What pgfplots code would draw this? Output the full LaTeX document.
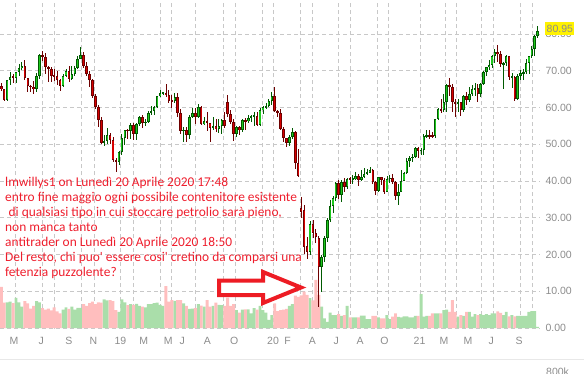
\documentclass[border=0pt]{standalone}
\usepackage{pgfplots}
\pgfplotsset{compat=1.18}
\usepackage{pgfplotstable}
\usepackage{fontspec}
\setmainfont{Liberation Sans}
\newfontfamily\carlito{Carlito}
\definecolor{upfill}{RGB}{30,200,30}
\definecolor{updark}{RGB}{0,90,0}
\definecolor{dnfill}{RGB}{215,0,0}
\definecolor{dndark}{RGB}{110,0,0}
\definecolor{volup}{RGB}{170,222,170}
\definecolor{voldn}{RGB}{255,190,190}
\definecolor{gridgray}{RGB}{200,200,200}
\definecolor{tickgray}{RGB}{140,140,140}
\definecolor{annot}{RGB}{238,30,45}
\definecolor{arrowred}{RGB}{237,28,36}
\definecolor{sepgray}{RGB}{232,232,232}

\pgfplotstableread{
i o h l c v
0 65.9 66.6 64.6 64.9 11.2
1 64.9 65.0 61.8 62.1 6.9
2 62.1 67.5 61.9 67.4 7.0
3 67.4 69.6 66.2 68.4 7.2
4 68.4 69.0 66.6 68.1 6.8
5 68.1 69.6 66.8 69.7 8.2
6 69.7 71.9 68.6 70.7 7.0
7 70.7 72.3 70.2 71.3 5.8
8 71.3 72.9 67.4 67.9 7.3
9 67.9 68.1 64.2 65.8 6.7
10 65.8 66.2 64.2 65.7 5.3
11 65.7 67.1 63.6 65.1 6.0
12 65.1 69.3 64.2 68.6 7.3
13 68.6 74.5 67.8 74.2 7.0
14 74.2 75.3 72.6 73.8 5.4
15 73.8 74.8 69.0 71.0 5.0
16 71.0 71.4 67.0 70.5 5.3
17 70.5 71.0 67.0 68.7 4.8
18 68.7 70.4 67.3 68.5 5.6
19 68.5 69.9 66.0 67.6 4.5
20 67.6 67.8 64.4 65.9 4.0
21 65.9 69.0 65.7 68.7 5.0
22 68.7 70.4 68.3 69.8 5.6
23 69.8 71.4 66.9 67.8 5.2
24 67.8 71.4 67.5 69.0 5.8
25 69.0 71.4 68.6 70.8 5.0
26 70.8 73.9 70.5 73.3 5.5
27 73.3 76.5 73.1 74.3 5.5
28 74.3 75.1 70.8 71.3 6.5
29 71.3 72.4 68.5 69.1 6.0
30 69.1 70.0 65.7 67.6 6.8
31 67.6 67.8 62.5 63.1 7.2
32 63.1 63.6 59.6 60.2 6.5
33 60.2 60.7 54.8 56.5 7.0
34 56.5 57.4 50.2 50.4 6.9
35 50.4 52.4 49.4 50.9 7.8
36 50.9 54.3 50.1 52.6 7.5
37 52.6 53.0 50.2 51.2 7.6
38 51.2 51.9 45.3 45.6 7.3
39 45.6 46.2 42.4 45.3 4.9
40 45.3 48.2 44.4 48.0 4.4
41 48.0 52.7 47.1 51.6 7.8
42 51.6 54.0 49.8 53.8 7.0
43 53.8 54.2 51.3 53.7 6.2
44 53.7 55.8 51.3 55.3 6.5
45 55.3 55.8 51.2 52.7 6.3
46 52.7 55.7 51.2 55.6 6.6
47 55.6 57.8 55.1 57.3 6.0
48 57.3 57.9 54.5 55.8 5.8
49 55.8 57.0 55.1 56.1 5.6
50 56.1 59.0 55.7 58.5 6.5
51 58.5 60.4 58.0 59.0 6.5
52 59.0 60.5 58.0 60.1 6.8
53 60.1 63.2 60.0 63.1 6.9
54 63.1 64.8 62.9 63.9 6.3
55 63.9 64.3 63.3 64.0 6.0
56 64.0 66.4 62.8 63.3 11.4
57 63.3 64.8 61.1 61.9 7.2
58 61.9 63.3 60.0 61.7 7.6
59 61.7 63.9 61.2 62.8 7.4
60 62.8 63.9 57.3 58.6 7.6
61 58.6 59.6 52.9 53.5 7.6
62 53.5 54.8 50.6 54.0 6.7
63 54.0 54.8 50.6 52.5 6.0
64 52.5 58.0 51.3 57.4 5.2
65 57.4 59.9 57.2 58.5 5.3
66 58.5 60.0 55.6 57.5 5.4
67 57.5 61.0 57.1 60.2 6.5
68 60.2 60.5 55.3 55.6 6.1
69 55.6 57.4 55.3 56.2 5.8
70 56.2 58.8 53.6 55.7 7.6
71 55.7 55.7 50.5 54.5 5.8
72 54.5 57.5 53.9 54.9 6.0
73 54.9 56.9 53.3 54.2 6.9
74 54.2 56.9 53.0 55.1 6.3
75 55.1 57.0 52.8 56.5 6.2
76 56.5 58.8 54.5 54.9 6.0
77 61.6 63.4 57.5 58.1 8.3
78 58.1 59.3 55.6 56.0 6.0
79 56.0 56.8 51.0 52.8 6.5
80 52.8 54.9 51.9 54.7 4.9
81 54.7 54.9 52.4 53.8 4.2
82 53.8 56.9 53.3 56.7 5.0
83 56.7 57.2 53.8 56.2 5.1
84 56.2 57.9 55.9 57.2 5.1
85 57.2 57.9 56.0 57.7 4.0
86 57.7 58.7 55.1 57.8 5.4
87 57.8 58.7 55.0 55.2 5.0
88 55.2 59.9 55.0 59.2 6.0
89 59.2 60.3 58.1 60.1 4.9
90 60.1 61.2 59.7 60.4 4.2
91 60.4 62.3 60.1 61.7 2.2
92 61.7 64.1 60.6 63.05 3.5
93 63.05 65.65 58.8 59.0 6.7
94 59.0 59.2 57.4 58.5 4.6
95 58.5 59.7 53.9 54.2 4.9
96 54.2 54.6 50.6 51.6 5.0
97 51.6 51.8 49.3 50.3 5.2
98 50.3 52.5 49.5 52.1 6.0
99 52.1 54.5 51.4 53.4 6.5
100 53.4 53.5 43.3 44.8 8.8
101 44.8 48.7 41.0 41.3 8.5
102 32.6 35.7 30.0 31.7 8.9
103 32.0 33.5 20.1 22.1 9.9
104 22.3 24.9 18.9 20.8 9.0
105 20.8 29.0 19.9 28.3 8.1
106 28.3 29.5 24.5 25.8 7.5
107 25.8 27.0 23.0 24.7 13.1
108 24.4 25.0 5.8 16.7 9.0
109 16.5 19.9 9.9 19.4 5.8
110 19.4 25.0 18.0 24.5 2.6
111 24.5 29.8 23.5 29.4 1.7
112 29.4 34.7 28.8 33.2 4.2
113 33.2 35.8 31.3 35.4 3.5
114 35.4 39.7 34.6 39.4 3.5
115 39.4 40.4 35.2 36.2 3.8
116 36.2 40.4 34.4 39.7 3.3
117 39.7 40.8 37.1 38.5 3.5
118 38.5 40.9 37.9 40.6 6.0
119 40.6 41.1 39.3 40.5 2.9
120 40.5 41.5 39.2 40.6 2.9
121 40.6 42.5 40.2 41.3 2.9
122 41.3 42.0 38.7 40.3 2.9
123 40.3 42.9 39.9 41.2 3.4
124 41.2 43.5 40.7 42.0 3.4
125 42.0 43.4 41.5 42.3 2.4
126 42.3 43.8 42.1 43.0 2.4
127 43.0 43.4 39.2 39.8 3.3
128 39.8 40.0 36.1 37.3 3.3
129 37.3 41.2 36.9 41.1 2.9
130 41.1 41.2 39.0 40.3 2.6
131 40.3 40.9 36.6 37.05 2.6
132 37.05 41.4 37.0 40.6 3.5
133 40.6 41.5 39.4 40.9 2.4
134 40.9 41.8 39.2 39.85 3.1
135 39.85 40.0 34.9 35.8 4.0
136 35.8 39.1 33.6 37.1 3.0
137 37.1 43.1 37.0 40.1 2.9
138 40.1 42.4 39.9 42.2 3.2
139 42.2 46.3 41.9 45.5 3.2
140 45.5 46.7 43.9 46.3 2.9
141 46.3 47.3 45.2 46.6 2.9
142 46.6 49.3 46.2 49.1 3.3
143 49.1 49.3 46.2 48.2 3.3
144 48.2 48.9 47.2 48.5 9.25
145 48.5 52.8 47.2 52.2 3.1
146 52.2 53.9 51.8 52.4 3.3
147 52.4 53.9 51.4 52.3 3.3
148 52.3 53.2 51.6 52.2 4.0
149 52.2 57.0 51.7 56.85 4.0
150 56.85 60.0 56.6 59.5 4.0
151 59.5 62.3 58.6 59.2 4.0
152 59.2 63.8 58.9 61.5 4.9
153 61.5 66.4 58.9 66.1 5.0
154 66.1 67.98 63.1 65.6 4.4
155 65.6 66.4 58.9 61.4 7.6
156 61.4 62.3 57.3 61.0 4.4
157 61.0 62.3 58.9 61.45 3.1
158 61.45 61.5 57.6 59.3 3.5
159 59.3 63.5 58.9 63.1 3.3
160 63.1 64.1 60.6 62.1 4.4
161 62.1 65.5 61.5 63.6 4.4
162 63.6 66.0 63.1 64.9 3.1
163 64.9 66.7 63.2 65.4 3.8
164 65.4 66.5 61.6 63.6 3.5
165 63.6 66.6 62.9 66.3 3.8
166 66.3 69.8 66.1 69.6 3.5
167 69.6 71.0 68.5 70.9 3.8
168 70.9 72.9 70.3 71.6 3.5
169 71.6 74.2 70.8 74.05 4.0
170 74.05 76.0 72.0 75.2 4.0
171 75.2 77.0 72.3 74.6 4.5
172 74.6 75.5 71.0 71.8 4.1
173 71.8 72.4 65.0 72.1 3.5
174 72.1 74.3 71.2 73.95 4.4
175 73.95 74.1 67.6 68.3 3.2
176 68.3 69.3 65.2 68.4 3.5
177 68.4 68.5 61.7 62.3 3.2
178 62.3 69.0 62.0 68.7 3.3
179 68.7 70.1 67.6 69.3 3.3
180 69.3 70.4 67.4 69.7 3.3
181 69.7 73.1 69.1 72.0 3.3
182 72.0 74.1 69.2 74.0 4.4
183 74.0 76.7 73.6 75.9 4.6
184 75.9 79.8 74.0 79.35 4.6
185 79.35 82.3 79.0 80.95 0.3
}\candles

\newcommand\xpos{((\thisrow{i}<=108) ? (1.3+2.94*\thisrow{i}) : (318.8+2.84*(\thisrow{i}-108)))}
\newcommand\tickfont{\fontsize{10.5}{12}\selectfont}

\begin{document}
\begin{tikzpicture}
\path[use as bounding box] (0,0) rectangle (584pt,373pt);
\draw[sepgray, line width=0.8pt] (0pt,14pt) -- (584pt,14pt);
\begin{axis}[
  at={(0pt,44pt)}, anchor=south west,
  scale only axis, width=540pt, height=329pt,
  xmin=0, xmax=540, ymin=-0.27, ymax=89.25,
  axis line style={draw=none},
  major tick length=0pt,
  ytick={0,10,...,80},
  yticklabel pos=right,
  yticklabel style={font=\tickfont, text=tickgray, anchor=west, xshift=2pt},
  /pgf/number format/.cd, fixed, fixed zerofill, precision=2, assume math mode=true,
  /pgfplots/.cd,
  xtick={14,41.3,68.8,93.3,120.5,143.8,168.3,182.2,207.3,234.3,273,287.5,312.3,336.2,360,384.5,419.5,444,468,491.3,519},
  xticklabels={M,J,S,N,19,M,M,J,A,O,20,F,A,J,A,O,21,M,M,J,S},
  xticklabel style={font=\tickfont, text=tickgray, anchor=center, yshift=-11.7pt},
  ymajorgrids=true,
  major grid style={gridgray, line width=0.8pt, dash pattern=on 4pt off 3pt},
  extra x ticks={15,42.7,54.3,81.7,94,120.7,133.3,160,171.7,195,223,235,262,273,300,312,338,350,377,388,420.7,445,456.7,481,493.3,520,532.7},
  extra x tick labels={},
  extra x tick style={grid=major},
]
% volume
\addplot[ybar, bar width=2.94, bar shift=0pt, fill=volup, draw=none, forget plot]
  table[x expr=\xpos, y=v, restrict expr to domain={\thisrow{c}-\thisrow{o}}{0:1000}] {\candles};
\addplot[ybar, bar width=2.94, bar shift=0pt, fill=voldn, draw=none, forget plot]
  table[x expr=\xpos, y=v, restrict expr to domain={\thisrow{c}-\thisrow{o}}{-1000:-0.001}] {\candles};
% wicks
\addplot[draw=none, mark=none, forget plot, error bars/.cd, y dir=both, y explicit, error mark=none,
  error bar style={draw=updark, line width=0.8pt, solid}]
  table[x expr=\xpos, y expr=(\thisrow{h}+\thisrow{l})/2, y error expr=(\thisrow{h}-\thisrow{l})/2,
  restrict expr to domain={\thisrow{c}-\thisrow{o}}{0:1000}] {\candles};
\addplot[draw=none, mark=none, forget plot, error bars/.cd, y dir=both, y explicit, error mark=none,
  error bar style={draw=dndark, line width=0.8pt, solid}]
  table[x expr=\xpos, y expr=(\thisrow{h}+\thisrow{l})/2, y error expr=(\thisrow{h}-\thisrow{l})/2,
  restrict expr to domain={\thisrow{c}-\thisrow{o}}{-1000:-0.001}] {\candles};
% body outlines
\addplot[draw=none, mark=none, forget plot, error bars/.cd, y dir=both, y explicit, error mark=none,
  error bar style={draw=updark, line width=2.5pt, solid}]
  table[x expr=\xpos, y expr=(\thisrow{o}+\thisrow{c})/2, y error expr={max(abs(\thisrow{c}-\thisrow{o})/2,0.2)},
  restrict expr to domain={\thisrow{c}-\thisrow{o}}{0:1000}] {\candles};
\addplot[draw=none, mark=none, forget plot, error bars/.cd, y dir=both, y explicit, error mark=none,
  error bar style={draw=dndark, line width=2.5pt, solid}]
  table[x expr=\xpos, y expr=(\thisrow{o}+\thisrow{c})/2, y error expr={max(abs(\thisrow{c}-\thisrow{o})/2,0.2)},
  restrict expr to domain={\thisrow{c}-\thisrow{o}}{-1000:-0.001}] {\candles};
% body fills
\addplot[draw=none, mark=none, forget plot, error bars/.cd, y dir=both, y explicit, error mark=none,
  error bar style={draw=upfill, line width=1.1pt, solid}]
  table[x expr=\xpos, y expr=(\thisrow{o}+\thisrow{c})/2, y error expr={max(abs(\thisrow{c}-\thisrow{o})/2-0.27,0)},
  restrict expr to domain={\thisrow{c}-\thisrow{o}}{0:1000}] {\candles};
\addplot[draw=none, mark=none, forget plot, error bars/.cd, y dir=both, y explicit, error mark=none,
  error bar style={draw=dnfill, line width=1.1pt, solid}]
  table[x expr=\xpos, y expr=(\thisrow{o}+\thisrow{c})/2, y error expr={max(abs(\thisrow{c}-\thisrow{o})/2-0.27,0)},
  restrict expr to domain={\thisrow{c}-\thisrow{o}}{-1000:-0.001}] {\candles};
\end{axis}
% current price tag
\node[fill=yellow, inner xsep=1.5pt, inner ysep=2.5pt, anchor=west, text=tickgray, font=\tickfont] at (545pt,344.5pt) {80.95};
\node[anchor=north west, inner sep=0pt, text=tickgray, font=\tickfont] at (546pt,5pt) {800k};
% arrow
\draw[arrowred, line width=4pt, fill=white, line join=miter] (219pt,92.5pt) -- (263pt,92.5pt) -- (263pt,101pt) -- (301pt,85.5pt) -- (263pt,70pt) -- (263pt,78pt) -- (219pt,78pt) -- cycle;
% annotation
\begin{scope}[every node/.style={anchor=base west, inner sep=0pt, text=annot, font=\carlito\fontsize{13.4}{15}\selectfont}]
\node at (5pt,187pt) {lmwillys1 on Lunedì 20 Aprile 2020 17:48};
\node at (5pt,172pt) {entro fine maggio ogni possibile contenitore esistente};
\node at (8.5pt,157pt) {di qualsiasi tipo in cui stoccare petrolio sarà pieno,};
\node at (5pt,142pt) {non manca tanto};
\node at (5pt,127pt) {antitrader on Lunedì 20 Aprile 2020 18:50};
\node at (5pt,112pt) {Del resto, chi puo\textquotesingle{} essere cosi\textquotesingle{} cretino da comparsi una};
\node at (5pt,97pt) {fetenzia puzzolente?};
\end{scope}
\end{tikzpicture}
\end{document}
